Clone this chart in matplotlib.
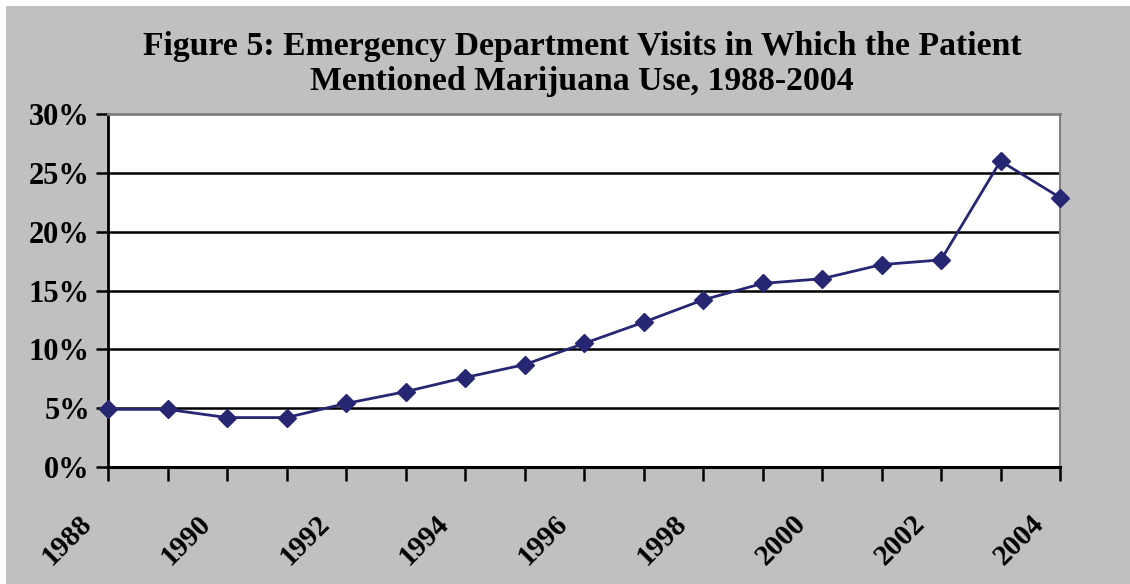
import numpy as np
import matplotlib.pyplot as plt
import matplotlib.transforms as mtransforms
from matplotlib.patches import Rectangle

# data
years = [1988, 1989, 1990, 1991, 1992, 1993, 1994, 1995, 1996,
         1997, 1998, 1999, 2000, 2001, 2002, 2003, 2004]
pct = [4.9, 4.9, 4.2, 4.2, 5.4, 6.4, 7.6, 8.7, 10.5,
       12.3, 14.2, 15.6, 16.0, 17.2, 17.6, 26.0, 22.9]
y_ticks = [0, 5, 10, 15, 20, 25, 30]
x_labels = [1988, 1990, 1992, 1994, 1996, 1998, 2000, 2002, 2004]

title = 'Figure 5: Emergency Department Visits in Which the Patient\nMentioned Marijuana Use, 1988-2004'

plt.rcParams['font.family'] = ['Liberation Serif', 'DejaVu Serif']

fig = plt.figure(figsize=(11.3, 5.84), dpi=100)
fig.patch.set_facecolor('white')
fig.patches.append(Rectangle((6 / 1130, 0), 1, 578 / 584, transform=fig.transFigure,
                             facecolor='#c0c0c0', edgecolor='none', zorder=-10))

ax = fig.add_axes([108 / 1130, 117 / 584, 952 / 1130, 353 / 584])
ax.set_facecolor('white')

for v in y_ticks[1:-1]:
    ax.axhline(v, color='black', lw=1.8, zorder=1)

ax.plot(years, pct, color='#262673', lw=2, marker='D', markersize=9,
        markerfacecolor='#262673', markeredgecolor='#262673', zorder=3, clip_on=False)

ax.set_xlim(1988, 2004)
ax.set_ylim(0, 30)

ax.set_yticks(y_ticks)
ax.set_yticklabels([f'{v}%' for v in y_ticks], fontsize=22, fontweight='bold')
ax.set_xticks(years)
ax.set_xticklabels([str(y) if y in x_labels else '' for y in years],
                   fontsize=21, fontweight='bold', rotation=45, ha='right',
                   rotation_mode='anchor')
ax.tick_params(axis='y', direction='out', length=9, width=1.8, pad=4)
ax.tick_params(axis='x', direction='out', length=10, width=1.8, pad=21)
shift = mtransforms.ScaledTranslation(-0.3, 0, fig.dpi_scale_trans)
for lbl in ax.get_xticklabels():
    lbl.set_transform(lbl.get_transform() + shift)

ax.spines['left'].set_linewidth(2)
ax.spines['bottom'].set_linewidth(2.2)
ax.spines['top'].set_color('#808080')
ax.spines['top'].set_linewidth(2)
ax.spines['right'].set_color('#808080')
ax.spines['right'].set_linewidth(1.5)

fig.text(0.515, 0.947, title, ha='center', va='top', fontsize=24.3,
         fontweight='bold', linespacing=1.17)

fig.savefig('out.png', dpi=100, facecolor=fig.get_facecolor())
